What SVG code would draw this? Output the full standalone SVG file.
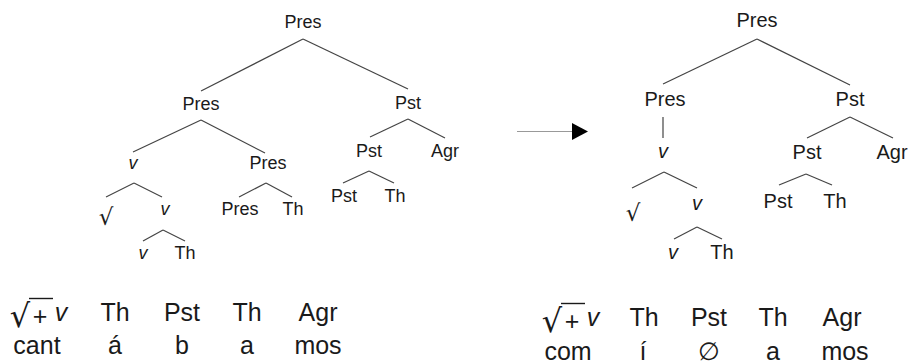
<svg xmlns="http://www.w3.org/2000/svg" width="911" height="364" viewBox="0 0 911 364">
<style>
text{font-family:"Liberation Sans",Arial,sans-serif;fill:#1a1a1a;text-anchor:middle}
.a{font-size:18px}
.b{font-size:20px}
.c{font-size:25px}
.i{font-style:italic}
.r{font-family:"DejaVu Sans",sans-serif}
line{stroke:#444;stroke-width:1.2}
.arr{stroke:#999;stroke-width:1.2}
.bar{stroke:#1a1a1a;stroke-width:1.4}
</style>
<rect width="911" height="364" fill="#fff"/>
<g id="connectors">
<line x1="303" y1="39" x2="201" y2="91"/>
<line x1="303" y1="39" x2="408" y2="89"/>
<line x1="201" y1="120" x2="133" y2="152"/>
<line x1="201" y1="120" x2="265" y2="153"/>
<line x1="408" y1="119" x2="370" y2="137"/>
<line x1="408" y1="119" x2="445" y2="138"/>
<line x1="134" y1="183" x2="106" y2="197"/>
<line x1="134" y1="183" x2="162" y2="197"/>
<line x1="266" y1="183" x2="239" y2="197"/>
<line x1="266" y1="183" x2="292" y2="197"/>
<line x1="369" y1="171" x2="343" y2="183"/>
<line x1="369" y1="171" x2="394" y2="183"/>
<line x1="163" y1="230" x2="143" y2="241"/>
<line x1="163" y1="230" x2="185" y2="241"/>
<line x1="757" y1="39" x2="663" y2="84"/>
<line x1="757" y1="39" x2="850" y2="85"/>
<line x1="663" y1="117" x2="663" y2="138"/>
<line x1="850" y1="117" x2="807" y2="138"/>
<line x1="850" y1="117" x2="893" y2="138"/>
<line x1="664" y1="172" x2="632" y2="188"/>
<line x1="664" y1="172" x2="697" y2="188"/>
<line x1="806" y1="174" x2="779" y2="185"/>
<line x1="806" y1="174" x2="832" y2="185"/>
<line x1="697" y1="227" x2="674" y2="239"/>
<line x1="697" y1="227" x2="722" y2="239"/>
</g>
<g id="arrow">
<line class="arr" x1="517" y1="131.5" x2="574" y2="131.5"/>
<polygon points="572,123 588,131.5 572,140" fill="#000"/>
</g>
<g id="left-tree">
<g id="L-root"><text class="a" x="303" y="28">Pres</text></g>
<g id="L-pres"><text class="a" x="201" y="110">Pres</text></g>
<g id="L-pst"><text class="a" x="408" y="109">Pst</text></g>
<g id="L-v"><text class="a i" x="133" y="169">v</text></g>
<g id="L-pres2"><text class="a" x="268" y="169">Pres</text></g>
<g id="L-pst2"><text class="a" x="369" y="157">Pst</text></g>
<g id="L-agr"><text class="a" x="445" y="157">Agr</text></g>
<g id="L-root-sym"><text class="r" font-size="23" x="106" y="225">√</text></g>
<g id="L-v2"><text class="a i" x="165" y="215">v</text></g>
<g id="L-pres3"><text class="a" x="240" y="215">Pres</text></g>
<g id="L-th1"><text class="a" x="293" y="215">Th</text></g>
<g id="L-pst3"><text class="a" x="344" y="202">Pst</text></g>
<g id="L-th2"><text class="a" x="395" y="202">Th</text></g>
<g id="L-v3"><text class="a i" x="143" y="259">v</text></g>
<g id="L-th3"><text class="a" x="185" y="259">Th</text></g>
</g>
<g id="right-tree">
<g id="R-root"><text class="b" x="757" y="27">Pres</text></g>
<g id="R-pres"><text class="b" x="665" y="106">Pres</text></g>
<g id="R-pst"><text class="b" x="850" y="106">Pst</text></g>
<g id="R-v"><text class="b i" x="663" y="158">v</text></g>
<g id="R-pst2"><text class="b" x="807" y="159">Pst</text></g>
<g id="R-agr"><text class="b" x="892" y="159">Agr</text></g>
<g id="R-root-sym"><text class="r" font-size="23" x="633" y="221">√</text></g>
<g id="R-v2"><text class="b i" x="697" y="210">v</text></g>
<g id="R-pst3"><text class="b" x="778" y="208">Pst</text></g>
<g id="R-th1"><text class="b" x="835" y="208">Th</text></g>
<g id="R-v3"><text class="b i" x="673" y="259">v</text></g>
<g id="R-th2"><text class="b" x="722" y="259">Th</text></g>
</g>
<g id="left-gloss">
<text class="r" font-size="32" x="20" y="327">√</text>
<line class="bar" x1="29" y1="298.5" x2="53" y2="298.5"/>
<text class="c" x="40" y="325">+</text>
<text class="c i" x="61" y="321">v</text>
<text class="c" x="115" y="321">Th</text>
<text class="c" x="182" y="321">Pst</text>
<text class="c" x="247" y="321">Th</text>
<text class="c" x="318" y="321">Agr</text>
<text class="c" x="37" y="354">cant</text>
<text class="c" x="115" y="354">á</text>
<text class="c" x="182" y="354">b</text>
<text class="c" x="247" y="354">a</text>
<text class="c" x="318" y="354">mos</text>
</g>
<g id="right-gloss">
<text class="r" font-size="32" x="552" y="332">√</text>
<line class="bar" x1="561" y1="303.5" x2="585" y2="303.5"/>
<text class="c" x="572" y="330">+</text>
<text class="c i" x="593" y="326">v</text>
<text class="c" x="644" y="326">Th</text>
<text class="c" x="709" y="326">Pst</text>
<text class="c" x="773" y="326">Th</text>
<text class="c" x="842" y="326">Agr</text>
<text class="c" x="568" y="360">com</text>
<text class="c" x="643" y="360">í</text>
<text class="c" x="709" y="360">∅</text>
<text class="c" x="773" y="360">a</text>
<text class="c" x="845" y="360">mos</text>
</g>
</svg>
